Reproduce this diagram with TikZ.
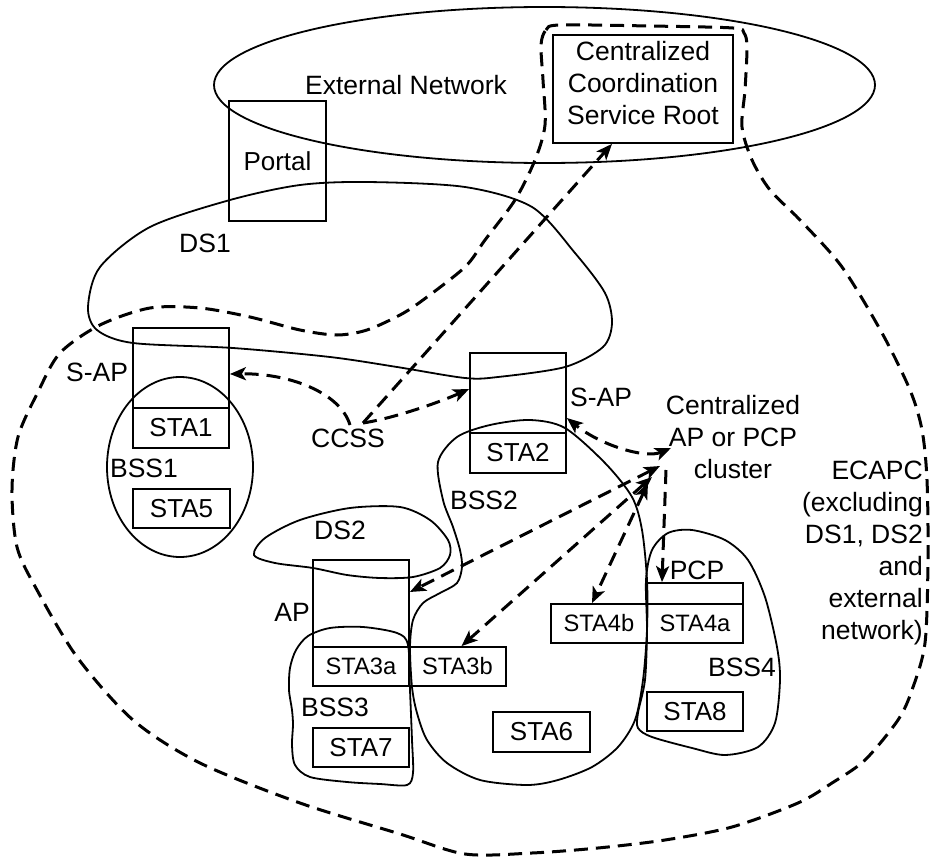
\documentclass[tikz,border=0pt]{standalone}
\usepackage{fontspec}
\setmainfont{Liberation Sans}
\usetikzlibrary{arrows.meta,calc}
\tikzset{
  lbl/.style={inner sep=0pt, font=\fontsize{26.5}{32}\selectfont},
  box/.style={draw, line width=1.8pt, inner sep=0pt, minimum width=96pt, minimum height=39pt, font=\fontsize{26}{31}\selectfont},
  sbox/.style={box, font=\fontsize{23.7}{28}\selectfont},
  heavy/.style={line width=2.6pt},
  blob/.style={line width=1.8pt},
  dsh/.style={line width=3pt, dash pattern=on 14pt off 8pt},
}
\begin{document}
\begin{tikzpicture}[x=1pt,y=-1pt,>={Stealth[length=16pt,width=13pt,inset=4pt]}]
\useasboundingbox (0,0) rectangle (930,859);

% containers
\draw[blob] (544.5,85) ellipse [x radius=330.5, y radius=78];
\draw[blob] plot[smooth cycle] coordinates {(465,187) (532,207) (575,253) (605,293) (612,323) (603,347) (565,367) (498,377) (465,378) (397,367) (330,357) (233,348) (133,343) (97,330) (88,307) (100,267) (150,227) (230,200) (300,185) (367,182)};
\draw[blob] (180,467) ellipse [x radius=73, y radius=90];
\draw[blob] plot[smooth cycle] coordinates {(438,462) (457,437) (490,425) (530,420) (565,428) (605,463) (632,497) (642,530) (647,580) (647,630) (643,680) (635,720) (618,747) (592,767) (558,780) (527,785) (480,780) (447,763) (427,740) (417,713) (412,687) (410,647) (413,620) (423,603) (440,593) (457,583) (462,567) (460,550) (453,527) (443,500)};
\draw[blob] plot[smooth cycle] coordinates {(254,555) (265,538) (300,520) (350,508) (400,507) (430,520) (448,540) (450,555) (440,568) (413,577) (380,578) (347,575) (313,568) (275,563)};
\draw[blob] plot[smooth cycle] coordinates {(308,636) (330,628) (363,627) (397,633) (408,645) (410,690) (412,740) (413,773) (407,785) (380,784) (347,782) (310,777) (295,765) (292,745) (293,725) (292,710) (289,690) (290,668) (296,650)};
\draw[blob] plot[smooth cycle] coordinates {(692,530) (725,540) (748,560) (765,597) (777,647) (780,680) (775,723) (758,747) (725,755) (692,748) (652,737) (638,728) (638,713) (645,680) (647,630) (646,580) (652,550) (668,533)};
\draw[dsh] plot[smooth cycle, tension=0.5] coordinates {(541,45) (546,30) (560,25) (650,26) (733,28) (744,33) (747,47) (745,90) (742,127) (752,160) (770,190) (800,220) (842,267) (882,333) (910,390) (922,430) (927,480) (928,560) (925,643) (912,690) (898,720) (865,760) (832,783) (798,803) (732,827) (665,840) (598,848) (532,853) (465,854) (400,834) (300,803) (200,763) (133,720) (77,657) (37,590) (17,547) (12,490) (18,437) (38,392) (60,353) (100,325) (150,308) (200,308) (250,317) (300,330) (337,335) (367,330) (400,315) (423,300) (465,267) (485,240) (515,200) (535,160) (545,125) (543,80)};

% boxes
\node[box, minimum width=97pt, minimum height=120pt] (portal) at (277.5,161) {Portal};
\node[box, minimum width=180pt, minimum height=108pt] (ccsr) at (643,89) {};
\node[lbl, align=center, anchor=north] (ccsrtxt) at (643,41.5) {Centralized\\Coordination\\Service Root};
\node[box, minimum height=120pt] (sap1) at (181,388) {};
\node[box, heavy, minimum height=40pt] (sta1) at (181,428) {STA1};
\node[box, minimum width=97pt] (sta5) at (181.5,508.5) {STA5};
\node[box, minimum height=120pt] (sap2) at (518,413) {};
\node[box, minimum height=40pt] (sta2) at (518,453) {STA2};
\node[box, minimum height=126pt] (ap) at (361,623) {};
\node[sbox, heavy] (sta3a) at (361,666.5) {STA3a};
\node[sbox, minimum width=97pt] (sta3b) at (457.5,666.5) {STA3b};
\node[box] (sta7) at (361,747.5) {STA7};
\node[box, minimum width=97pt, minimum height=40pt] (sta6) at (541.5,732) {STA6};
\node[sbox] (sta4b) at (599,623.5) {STA4b};
\node[box, minimum height=60pt] (pcp) at (695,613) {};
\node[sbox] (sta4a) at (695,623.5) {STA4a};
\node[box] (sta8) at (695,711.5) {STA8};

% labels
\node[lbl] (extlbl) at (406,85) {External Network};
\node[lbl] (ds1) at (205,243) {DS1};
\node[lbl] (saplbl1) at (97,372) {S-AP};
\node[lbl] (bss1) at (144,468) {BSS1};
\node[lbl] (ccss) at (348,438) {CCSS};
\node[lbl] (saplbl2) at (601,397) {S-AP};
\node[lbl, align=center, anchor=north] (cluster) at (733,395.5) {Centralized\\AP or PCP\\cluster};
\node[lbl] (bss2) at (484,500) {BSS2};
\node[lbl] (ds2) at (340,530) {DS2};
\node[lbl] (aplbl) at (292,612) {AP};
\node[lbl] (bss3) at (335,707) {BSS3};
\node[lbl] (pcplbl) at (697,570) {PCP};
\node[lbl] (bss4) at (742,667) {BSS4};
\node[lbl, align=right, anchor=north east] (ecapc) at (923,460.5) {ECAPC\\(excluding\\DS1, DS2\\and\\external\\network)};

% connectors from CCSS
\draw[dsh,->] ([xshift=2pt,yshift=13pt]ccss.center) .. controls (340,392) and (288,373) .. ([yshift=14pt]sap1.east);
\draw[dsh,->] ([xshift=15pt,yshift=15pt]ccss.center) .. controls (395,418) and (440,402) .. ([yshift=24pt]sap2.west);
\draw[dsh,->] ([xshift=15pt,yshift=15pt]ccss.center) -- ([xshift=-31pt]ccsr.south);

% connectors from the cluster
\coordinate (clS) at (671,448);
\coordinate (clAP) at (660,466);
\coordinate (cl3b) at (652,477);
\coordinate (cl4b) at (648,483);
\coordinate (clP) at (666,470);
\draw[dsh,<->] (clS) .. controls (645,459) and (600,445) .. ([yshift=-5pt]sap2.east);
\draw[dsh,<->] (clAP) -- ([yshift=31pt]ap.east);
\draw[dsh,<->] (cl3b) -- ([xshift=4pt]sta3b.north);
\draw[dsh,<->] (cl4b) -- ([xshift=-7pt]sta4b.north);
\draw[dsh,->] (clP) -- ([xshift=-33pt]pcp.north);
\end{tikzpicture}
\end{document}
